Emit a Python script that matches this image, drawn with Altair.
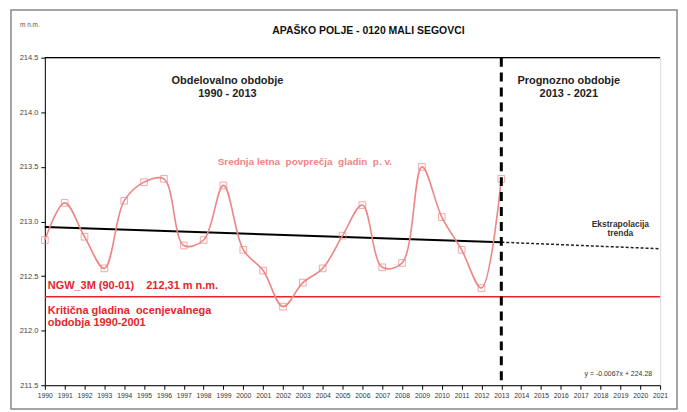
import altair as alt
import pandas as pd

years = list(range(1990, 2014))
levels = [212.83, 213.17, 212.86, 212.57, 213.19, 213.36, 213.39, 212.78, 212.83, 213.33,
          212.74, 212.55, 212.22, 212.44, 212.57, 212.87, 213.15, 212.58, 212.62, 213.50,
          213.04, 212.74, 212.39, 213.39]
trend_years = [1990, 2013]
trend_vals = [212.95, 212.81]
extrap_years = [2013, 2021]
extrap_vals = [212.81, 212.75]
critical_level = 212.31
split_year = 2013
x_ticks = list(range(1990, 2022))
y_ticks = [211.5, 212.0, 212.5, 213.0, 213.5, 214.0, 214.5]

FONT = "Liberation Sans"
SALMON = "#EE8585"
RED = "#E3262B"
NB = "\u00a0"

W, H = 618, 329
xs = alt.Scale(domain=[1990, 2021], nice=False, zero=False)
ys = alt.Scale(domain=[211.5, 214.5], nice=False, zero=False)

xaxis = alt.Axis(values=x_ticks, format="d", title=None, labelFontSize=6.8, labelColor="#333",
                 labelFont=FONT, domainColor="#000", tickColor="#000", tickSize=4,
                 labelOverlap=False, labelFlush=False, grid=False, labelPadding=3)
yaxis = alt.Axis(values=y_ticks, format=".1f", title=None, labelFontSize=7.5, labelColor="#444",
                 labelFont=FONT, domainColor="#000", tickColor="#000", tickSize=4, grid=False,
                 labelPadding=3, labelOverlap=False, labelFlush=False)

df = pd.DataFrame({"year": years, "level": levels})
X = alt.X("year:Q", scale=xs, axis=xaxis)
Y = alt.Y("level:Q", scale=ys, axis=yaxis)

line = alt.Chart(df).mark_line(interpolate="catmull-rom", color=SALMON, strokeWidth=1.6).encode(x=X, y=Y)
pts = alt.Chart(df).mark_point(shape="square", filled=False, color=SALMON, size=45, strokeWidth=1).encode(
    x=X, y=Y)

trend = alt.Chart(pd.DataFrame({"year": trend_years, "level": trend_vals})).mark_line(
    color="#000", strokeWidth=2).encode(x=X, y=Y)
extrap = alt.Chart(pd.DataFrame({"year": extrap_years, "level": extrap_vals})).mark_line(
    color="#222", strokeWidth=1.5, strokeDash=[3, 2]).encode(x=X, y=Y)

crit = alt.Chart(pd.DataFrame({"level": [critical_level]})).mark_rule(color=RED, strokeWidth=1.5).encode(y=Y)
split = alt.Chart(pd.DataFrame({"year": [split_year]})).mark_rule(
    color="#000", strokeWidth=3, strokeDash=[9, 6]).encode(x=X)

top_rule = alt.Chart(pd.DataFrame({"a": [0]})).mark_rule(color="#000", strokeWidth=1.2).encode(
    x=alt.value(0), x2=alt.value(W), y=alt.value(0))

frame = alt.Chart(pd.DataFrame({"a": [0]})).mark_rect(fill=None, stroke="#888", strokeWidth=1.5).encode(
    x=alt.value(-34), x2=alt.value(635), y=alt.value(-48), y2=alt.value(353))

def txt(rows, color, size, align="center", weight="bold"):
    d = pd.DataFrame(rows, columns=["year", "level", "t"])
    return alt.Chart(d).mark_text(color=color, fontSize=size, font=FONT, fontWeight=weight,
                                  align=align, baseline="middle").encode(x=X, y=Y, text="t:N")

labels = [
    txt([(1999.2, 214.29, "Obdelovalno obdobje"), (1999.2, 214.17, "1990 - 2013")], "#222", 11),
    txt([(2016.4, 214.29, "Prognozno obdobje"), (2016.4, 214.17, "2013 - 2021")], "#222", 11),
    txt([(2003.1, 213.54, f"Srednja letna{NB} povprečja{NB} gladin{NB} p. v.")], SALMON, 10),
    txt([(2019.0, 212.975, "Ekstrapolacija"), (2019.0, 212.89, "trenda")], "#333", 8.5),
    txt([(1990.15, 212.41, f"NGW_3M (90-01){NB*4}212,31 m n.m.")], RED, 11, align="left"),
    txt([(1990.15, 212.18, f"Kritična gladina{NB} ocenjevalnega"), (1990.15, 212.07, "obdobja 1990-2001")],
        RED, 11, align="left"),
    txt([(2020.6, 211.6, "y = -0.0067x + 224.28")], "#333", 7, align="right", weight="normal"),
]

title = alt.Chart(pd.DataFrame({"t": ["APAŠKO POLJE - 0120 MALI SEGOVCI"]})).mark_text(
    font=FONT, fontSize=10.5, fontWeight="bold", color="#111", align="center", baseline="middle").encode(
    x=alt.value(325), y=alt.value(-27), text="t:N")
unit = alt.Chart(pd.DataFrame({"t": ["m n.m."]})).mark_text(
    font=FONT, fontSize=6.5, color="#555", align="left", baseline="middle").encode(
    x=alt.value(-25), y=alt.value(-33), text="t:N")

chart = alt.layer(frame, crit, trend, extrap, line, pts, split, top_rule, *labels, title, unit).properties(
    width=W, height=H,
    autosize=alt.AutoSizeParams(type="none"),
    padding={"left": 37, "top": 49, "right": 19, "bottom": 26},
).configure_view(stroke="#999", strokeWidth=1).configure_axis(
    labelOverlap=False, labelFlush=False).configure(background="white")

chart.save("out.html", embed_options={"renderer": "svg", "actions": False})
